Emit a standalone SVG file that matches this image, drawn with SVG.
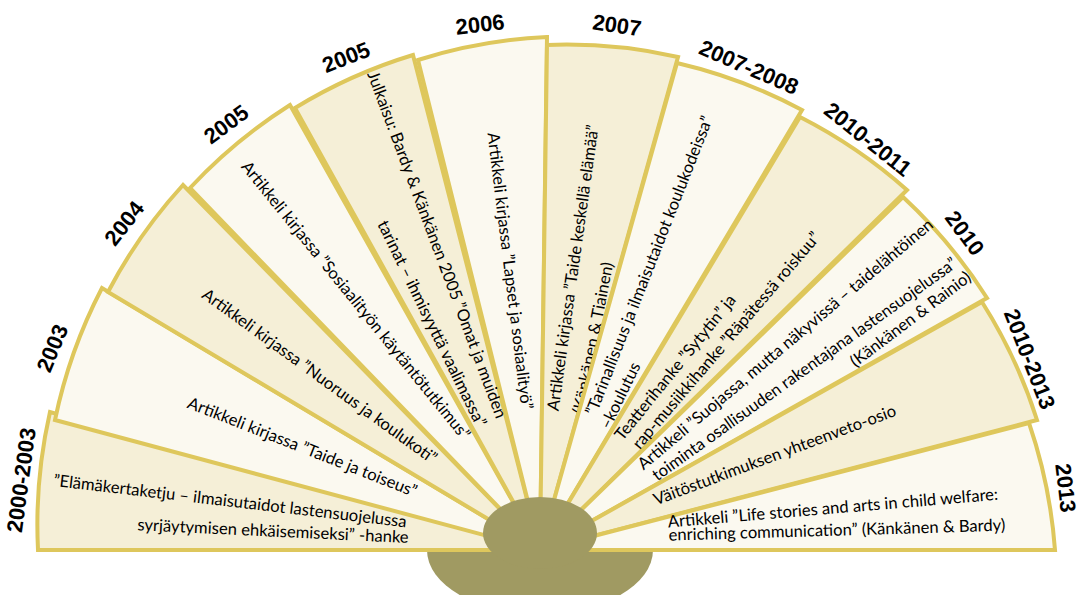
<svg xmlns="http://www.w3.org/2000/svg" width="1079" height="595" viewBox="0 0 1079 595">
<style>
.w{stroke:#DEC75C;stroke-width:4;stroke-linejoin:miter}
.d{fill:#F5EFD7}
.l{fill:#FBF9F0}
.y{font-family:"Liberation Sans",Arial,sans-serif;font-weight:bold;font-size:22px;fill:#000;text-anchor:middle}
.t{font-family:Lato,"Liberation Sans",Arial,sans-serif;font-size:16.6px;fill:#000;text-anchor:middle}
.hub{fill:#A09A62}
</style>
<rect width="1079" height="595" fill="#fff"/>
<g id="hub-base"><ellipse class="hub" cx="540" cy="550" rx="113" ry="64"/></g>
<g id="w1">
<path class="w d" d="M540,550 L38,550 A508,508 0 0 1 50,412 Z"/>
<text class="y" x="21" y="480" dy=".36em" transform="rotate(-82.3 21 480)">2000-2003</text>
<text class="t" x="230" y="502" dy=".28em" transform="rotate(6.7 230 502)">”Elämäkertaketju – ilmaisutaidot lastensuojelussa</text>
<text class="t" x="273" y="532" dy=".28em" transform="rotate(2.7 273 532)">syrjäytymisen ehkäisemiseksi” -hanke</text>
</g>
<g id="w2">
<path class="w l" d="M540,550 L55,420 A508,508 0 0 1 102,288 Z"/>
<text class="y" x="52" y="348" dy=".36em" transform="rotate(-67.5 52 348)">2003</text>
<text class="t" x="302" y="448" dy=".28em" transform="rotate(21.5 302 448)">Artikkeli kirjassa ”Taide ja toiseus”</text>
</g>
<g id="w3">
<path class="w d" d="M540,550 L108,292 A508,508 0 0 1 183,185 Z"/>
<text class="y" x="124" y="223" dy=".36em" transform="rotate(-51.8 124 223)">2004</text>
<text class="t" x="319" y="377" dy=".28em" transform="rotate(36 319 377)">Artikkeli kirjassa ”Nuoruus ja koulukoti”</text>
</g>
<g id="w4">
<path class="w l" d="M540,550 L190,188 A508,508 0 0 1 290,105 Z"/>
<text class="y" x="226" y="124" dy=".36em" transform="rotate(-36.4 226 124)">2005</text>
<text class="t" x="355" y="301" dy=".28em" transform="rotate(51 355 301)">Artikkeli kirjassa ”Sosiaalityön käytäntötutkimus”</text>
</g>
<g id="w5">
<path class="w d" d="M540,550 L295,108 A508,508 0 0 1 413,55 Z"/>
<text class="y" x="346" y="57" dy=".36em" transform="rotate(-21.5 346 57)">2005</text>
<text class="t" x="436" y="245" dy=".28em" transform="rotate(69.5 436 245)">Julkaisu: Bardy &amp; Känkänen 2005 ”Omat ja muiden</text>
<text class="t" x="431" y="324" dy=".28em" transform="rotate(64 431 324)">tarinat – ihmisyyttä vaalimassa”</text>
</g>
<g id="w6">
<path class="w l" d="M540,550 L418,60 A508,508 0 0 1 547,37 Z"/>
<text class="y" x="480" y="24" dy=".36em" transform="rotate(-6.5 480 24)">2006</text>
<text class="t" x="509" y="271" dy=".28em" transform="rotate(83 509 271)">Artikkeli kirjassa ”Lapset ja sosiaalityö”</text>
</g>
<g id="w7">
<path class="w d" d="M540,550 L547,45 A508,508 0 0 1 678,57 Z"/>
<text class="y" x="617" y="25" dy=".36em" transform="rotate(8.3 617 25)">2007</text>
<text class="t" x="574" y="268" dy=".28em" transform="rotate(-82 574 268)">Artikkeli kirjassa ”Taide keskellä elämää”</text>
<text class="t" x="594" y="338" dy=".28em" transform="rotate(-79 594 338)">(Känkänen &amp; Tiainen)</text>
</g>
<g id="w8">
<path class="w l" d="M540,550 L677,63 A508,508 0 0 1 802,110 Z"/>
<text class="y" x="749" y="67" dy=".36em" transform="rotate(23.4 749 67)">2007-2008</text>
<text class="t" x="650" y="266" dy=".28em" transform="rotate(-68.5 650 266)">”Tarinallisuus ja ilmaisutaidot  koulukodeissa”</text>
<text class="t" x="621" y="396" dy=".28em" transform="rotate(-64 621 396)">–koulutus</text>
</g>
<g id="w9">
<path class="w d" d="M540,550 L800,117 A508,508 0 0 1 907,190 Z"/>
<text class="y" x="868" y="139" dy=".36em" transform="rotate(38.6 868 139)">2010-2011</text>
<text class="t" x="676" y="368" dy=".28em" transform="rotate(-51 676 368)">Teatterihanke ”Sytytin” ja</text>
<text class="t" x="727" y="341" dy=".28em" transform="rotate(-49.5 727 341)">rap-musiikkihanke ”Räpätessä roiskuu”</text>
</g>
<g id="w10">
<path class="w l" d="M540,550 L903,197 A508,508 0 0 1 987,298 Z"/>
<text class="y" x="965" y="233" dy=".36em" transform="rotate(53.3 965 233)">2010</text>
<text class="t" x="786" y="345" dy=".28em" transform="rotate(-40 786 345)">Artikkeli ”Suojassa, mutta näkyvissä – taidelähtöinen</text>
<text class="t" x="805" y="370" dy=".28em" transform="rotate(-35.6 805 370)">toiminta osallisuuden rakentajana lastensuojelussa”</text>
<text class="t" x="911" y="320" dy=".28em" transform="rotate(-37 911 320)">(Känkänen &amp; Rainio)</text>
</g>
<g id="w11">
<path class="w d" d="M540,550 L982,302 A508,508 0 0 1 1037,420 Z"/>
<text class="y" x="1030" y="359" dy=".36em" transform="rotate(68.7 1030 359)">2010-2013</text>
<text class="t" x="775" y="456" dy=".28em" transform="rotate(-20.5 775 456)">Väitöstutkimuksen yhteenveto-osio</text>
</g>
<g id="w12">
<path class="w l" d="M540,550 L1029,423 A508,508 0 0 1 1055,550 Z"/>
<text class="y" x="1066" y="488" dy=".36em" transform="rotate(83.3 1066 488)">2013</text>
<text class="t" x="833" y="509" dy=".28em" transform="rotate(-4.8 833 509)">Artikkeli ”Life stories and arts in child welfare:</text>
<text class="t" x="837" y="531" dy=".28em" transform="rotate(-1.7 837 531)">enriching communication” (Känkänen &amp; Bardy)</text>
</g>
<g id="hub-top"><ellipse class="hub" cx="540" cy="533" rx="57" ry="36"/></g>
</svg>
